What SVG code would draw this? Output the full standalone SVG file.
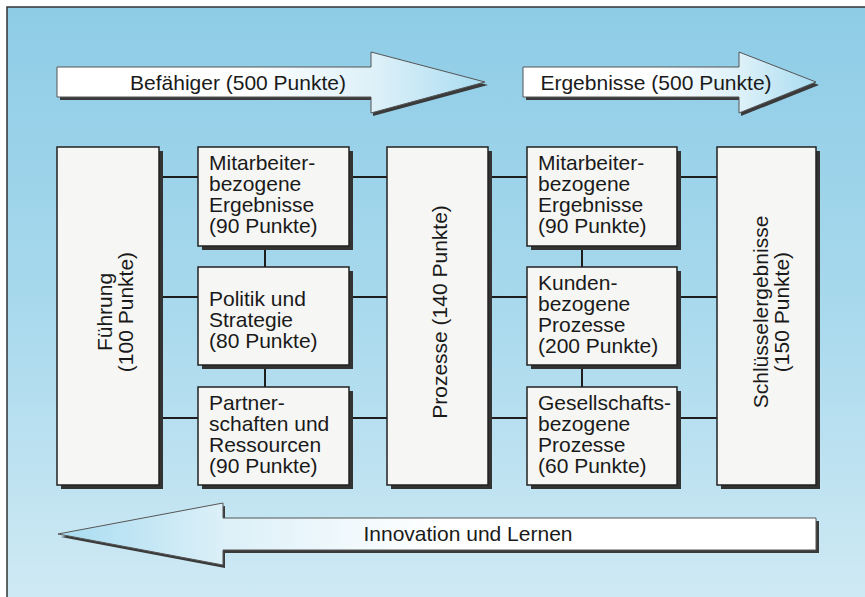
<svg xmlns="http://www.w3.org/2000/svg" width="865" height="597" viewBox="0 0 865 597">
  <defs>
    <linearGradient id="bg" x1="0" y1="0" x2="0" y2="1">
      <stop offset="0" stop-color="#8ecce6"/>
      <stop offset="0.5" stop-color="#a8d9ed"/>
      <stop offset="1" stop-color="#d0eaf4"/>
    </linearGradient>
    <linearGradient id="arrR" x1="0" y1="0" x2="1" y2="0">
      <stop offset="0" stop-color="#ffffff"/>
      <stop offset="0.45" stop-color="#ffffff"/>
      <stop offset="0.75" stop-color="#dcf0f8"/>
      <stop offset="1" stop-color="#a8dcf1"/>
    </linearGradient>
    <linearGradient id="arrL" x1="1" y1="0" x2="0" y2="0">
      <stop offset="0" stop-color="#ffffff"/>
      <stop offset="0.5" stop-color="#ffffff"/>
      <stop offset="0.78" stop-color="#dcf0f8"/>
      <stop offset="1" stop-color="#a8dcf1"/>
    </linearGradient>
    <style>
      .box { fill: #f6f6f4; stroke: #222; stroke-width: 1.5; }
      .shadow { fill: #333; }
      .arrow { stroke: #555; stroke-width: 1; }
      .ashadow { fill: #3a3a3a; }
      .conn { stroke: #1e1e1e; stroke-width: 2; fill: none; }
      .t { font-family: "Liberation Sans", Arial, sans-serif; font-size: 21px; fill: #1a1a1a; }
      .ta { font-family: "Liberation Sans", Arial, sans-serif; font-size: 21px; fill: #1a1a1a; text-anchor: middle; }
      .tr { font-family: "Liberation Sans", Arial, sans-serif; font-size: 21px; fill: #1a1a1a; text-anchor: middle; }
    </style>
  </defs>

  <rect x="0" y="0" width="865" height="597" fill="#ffffff"/>
  <rect x="7" y="7" width="870" height="600" fill="url(#bg)"/>
  <path d="M7 600 L7 7 L870 7" fill="none" stroke="#333" stroke-width="1.5"/>

  <g id="arrow-befaehiger">
    <polygon class="ashadow" points="60,70 373,70 373,55 488,85 373,116 373,100 60,100"/>
    <polygon class="arrow" fill="url(#arrR)" points="57,67 371,67 371,52 485,82 371,113 371,97 57,97"/>
    <text class="ta" x="238" y="90">Befähiger (500 Punkte)</text>
  </g>
  <g id="arrow-ergebnisse">
    <polygon class="ashadow" points="526,70 741,70 741,55 819,85 741,116 741,100 526,100"/>
    <polygon class="arrow" fill="url(#arrR)" points="523,67 739,67 739,52 816,82 739,113 739,97 523,97"/>
    <text class="ta" x="656" y="90">Ergebnisse (500 Punkte)</text>
  </g>
  <g id="arrow-innovation">
    <polygon class="ashadow" points="61,537 225,506 225,521 819,521 819,553 225,553 225,568"/>
    <polygon class="arrow" fill="url(#arrL)" points="58,534 223,503 223,518 816,518 816,550 223,550 223,565"/>
    <text class="ta" x="468" y="541">Innovation und Lernen</text>
  </g>

  <g id="connectors">
    <line class="conn" x1="160" y1="177" x2="717" y2="177"/>
    <line class="conn" x1="160" y1="297" x2="717" y2="297"/>
    <line class="conn" x1="160" y1="418" x2="717" y2="418"/>
    <line class="conn" x1="265" y1="246" x2="265" y2="387"/>
    <line class="conn" x1="582" y1="246" x2="582" y2="387"/>
  </g>

  <g id="fuehrung">
    <rect class="shadow" x="61" y="151" width="102" height="338"/>
    <rect class="box" x="57" y="147" width="102" height="338"/>
    <text class="tr" transform="translate(112,312) rotate(-90)">Führung</text>
    <text class="tr" transform="translate(133,312) rotate(-90)">(100 Punkte)</text>
  </g>

  <g id="mitarbeiter-befaehiger">
    <rect class="shadow" x="202" y="151" width="151" height="99"/>
    <rect class="box" x="198" y="147" width="151" height="99"/>
    <text class="t" x="209" y="170">Mitarbeiter-</text>
    <text class="t" x="209" y="191">bezogene</text>
    <text class="t" x="209" y="212">Ergebnisse</text>
    <text class="t" x="209" y="233">(90 Punkte)</text>
  </g>

  <g id="politik">
    <rect class="shadow" x="202" y="271" width="151" height="98"/>
    <rect class="box" x="198" y="267" width="151" height="98"/>
    <text class="t" x="209" y="306">Politik und</text>
    <text class="t" x="209" y="327">Strategie</text>
    <text class="t" x="209" y="348">(80 Punkte)</text>
  </g>

  <g id="partnerschaften">
    <rect class="shadow" x="202" y="391" width="151" height="98"/>
    <rect class="box" x="198" y="387" width="151" height="98"/>
    <text class="t" x="209" y="410">Partner-</text>
    <text class="t" x="209" y="431">schaften und</text>
    <text class="t" x="209" y="452">Ressourcen</text>
    <text class="t" x="209" y="473">(90 Punkte)</text>
  </g>

  <g id="prozesse">
    <rect class="shadow" x="391" y="151" width="101" height="338"/>
    <rect class="box" x="387" y="147" width="101" height="338"/>
    <text class="tr" transform="translate(447,312) rotate(-90)">Prozesse (140 Punkte)</text>
  </g>

  <g id="mitarbeiter-ergebnisse">
    <rect class="shadow" x="531" y="151" width="150" height="99"/>
    <rect class="box" x="527" y="147" width="150" height="99"/>
    <text class="t" x="538" y="170">Mitarbeiter-</text>
    <text class="t" x="538" y="191">bezogene</text>
    <text class="t" x="538" y="212">Ergebnisse</text>
    <text class="t" x="538" y="233">(90 Punkte)</text>
  </g>

  <g id="kunden">
    <rect class="shadow" x="531" y="271" width="150" height="98"/>
    <rect class="box" x="527" y="267" width="150" height="98"/>
    <text class="t" x="538" y="290">Kunden-</text>
    <text class="t" x="538" y="311">bezogene</text>
    <text class="t" x="538" y="332">Prozesse</text>
    <text class="t" x="538" y="353">(200 Punkte)</text>
  </g>

  <g id="gesellschaft">
    <rect class="shadow" x="531" y="391" width="150" height="98"/>
    <rect class="box" x="527" y="387" width="150" height="98"/>
    <text class="t" x="538" y="410">Gesellschafts-</text>
    <text class="t" x="538" y="431">bezogene</text>
    <text class="t" x="538" y="452">Prozesse</text>
    <text class="t" x="538" y="473">(60 Punkte)</text>
  </g>

  <g id="schluesselergebnisse">
    <rect class="shadow" x="721" y="151" width="99" height="338"/>
    <rect class="box" x="717" y="147" width="99" height="338"/>
    <text class="tr" transform="translate(768,312) rotate(-90)">Schlüsselergebnisse</text>
    <text class="tr" transform="translate(789,312) rotate(-90)">(150 Punkte)</text>
  </g>
</svg>
